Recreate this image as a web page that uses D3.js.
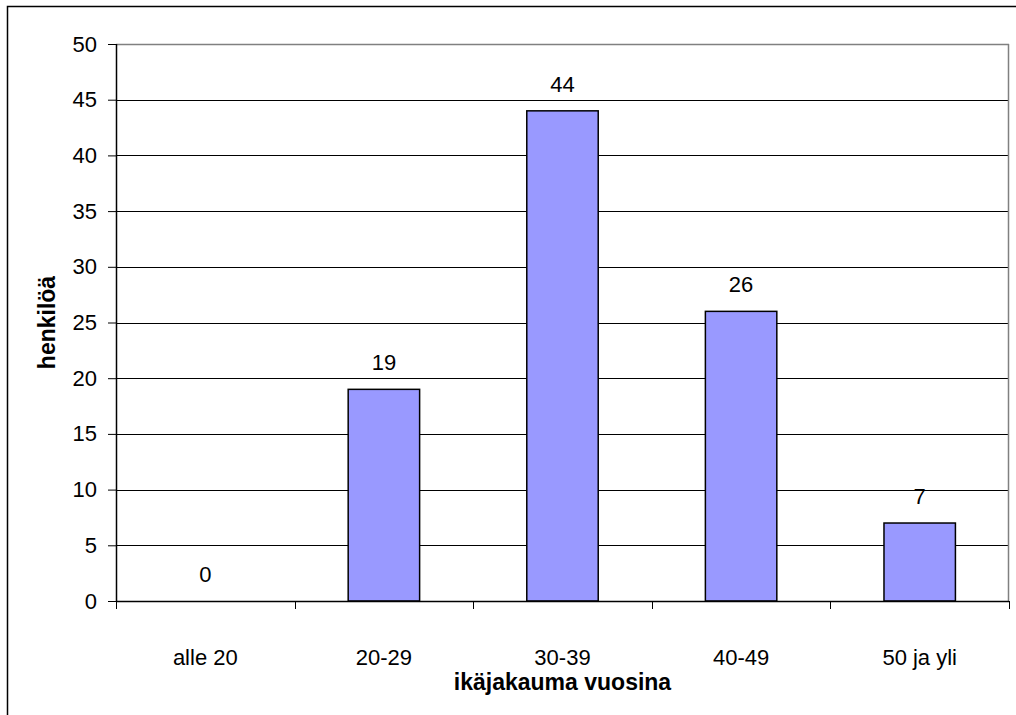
<!DOCTYPE html>
<html>
<head>
<meta charset="utf-8">
<script src="https://cdn.jsdelivr.net/npm/d3@7"></script>
<style>
  html, body { margin: 0; padding: 0; background: #fff; }
  svg { display: block; }
  text { font-family: Arial, "Liberation Sans", sans-serif; fill: #000; }
</style>
</head>
<body>
<svg id="chart"></svg>
<script>
const categories = ['alle 20', '20-29', '30-39', '40-49', '50 ja yli']
const values = [0, 19, 44, 26, 7]
const yTicks = [0, 5, 10, 15, 20, 25, 30, 35, 40, 45, 50]
const xTitle = 'ikäjakauma vuosina'
const yTitle = 'henkilöä'

const w = 1016
const h = 715
const padLeft = 116
const padRight = 1009
const padTop = 44
const padBottom = 601
const fontSize = '22px'
const titleSize = '23px'

const data = categories.map((c, i) => ({ cat: c, val: values[i] }))

const svg = d3.select('#chart').attr('width', w).attr('height', h)

// outer frame
svg.append('rect')
  .attr('x', 7.5).attr('y', 6.5)
  .attr('width', w + 10).attr('height', h + 10)
  .attr('fill', '#fff').attr('stroke', '#000').attr('stroke-width', 1.5)

const x = d3.scaleBand()
  .domain(categories)
  .range([padLeft, padRight])
  .paddingInner(0.6)
  .paddingOuter(0.3)

const y = d3.scaleLinear().domain([0, 50]).range([padBottom, padTop])

// gridlines
svg.append('g')
  .selectAll('line')
  .data(yTicks.filter((d) => d > 0))
  .enter()
  .append('line')
  .attr('x1', padLeft).attr('x2', padRight)
  .attr('y1', (d) => Math.round(y(d)) + 0.5)
  .attr('y2', (d) => Math.round(y(d)) + 0.5)
  .attr('stroke', '#000').attr('stroke-width', 1)

// top & right plot border (gray)
svg.append('line')
  .attr('x1', padLeft).attr('x2', padRight)
  .attr('y1', padTop + 0.5).attr('y2', padTop + 0.5)
  .attr('stroke', '#808080').attr('stroke-width', 1.5)
svg.append('line')
  .attr('x1', padRight - 0.5).attr('x2', padRight - 0.5)
  .attr('y1', padTop).attr('y2', padBottom)
  .attr('stroke', '#808080').attr('stroke-width', 1.5)

// bars
svg.append('g')
  .selectAll('rect')
  .data(data.filter((d) => d.val > 0))
  .enter()
  .append('rect')
  .attr('x', (d) => x(d.cat))
  .attr('y', (d) => y(d.val))
  .attr('width', x.bandwidth())
  .attr('height', (d) => y(0) - y(d.val))
  .attr('fill', '#9999ff')
  .attr('stroke', '#000')
  .attr('stroke-width', 1.5)

// value labels
svg.append('g')
  .selectAll('text')
  .data(data)
  .enter()
  .append('text')
  .attr('x', (d) => x(d.cat) + x.bandwidth() / 2)
  .attr('y', (d) => y(d.val) - 19)
  .attr('text-anchor', 'middle')
  .style('font-size', fontSize)
  .text((d) => d.val)

// y axis
const yAxis = d3.axisLeft(y).tickValues(yTicks).tickSize(8).tickPadding(11)
const gy = svg.append('g')
  .attr('transform', `translate(${padLeft},0)`)
  .call(yAxis)
gy.attr('font-family', null).attr('font-size', null)
gy.select('.domain').attr('stroke', '#000').attr('stroke-width', 1.5).attr('d', `M0.5,${padTop}V${padBottom}`)
gy.selectAll('.tick line').attr('stroke', '#000')
gy.selectAll('.tick text').style('font-size', fontSize)

// x axis
const boundaries = d3.range(categories.length + 1).map((i) => padLeft + i * (padRight - padLeft) / categories.length)
svg.append('line')
  .attr('x1', padLeft).attr('x2', padRight)
  .attr('y1', padBottom + 0.5).attr('y2', padBottom + 0.5)
  .attr('stroke', '#000').attr('stroke-width', 1.5)
const gx = svg.append('g')
gx.selectAll('line')
  .data(boundaries)
  .enter()
  .append('line')
  .attr('x1', (d) => Math.round(d) + 0.5).attr('x2', (d) => Math.round(d) + 0.5)
  .attr('y1', padBottom).attr('y2', padBottom + 8)
  .attr('stroke', '#000')
gx.selectAll('text')
  .data(categories)
  .enter()
  .append('text')
  .attr('x', (d) => x(d) + x.bandwidth() / 2)
  .attr('y', 665)
  .attr('text-anchor', 'middle')
  .style('font-size', fontSize)
  .text((d) => d)

// titles
svg.append('text')
  .attr('x', (padLeft + padRight) / 2)
  .attr('y', 690)
  .attr('text-anchor', 'middle')
  .style('font-size', titleSize)
  .style('font-weight', 'bold')
  .text(xTitle)

svg.append('text')
  .attr('transform', `translate(55, ${(padTop + padBottom) / 2}) rotate(-90)`)
  .attr('text-anchor', 'middle')
  .style('font-size', titleSize)
  .style('font-weight', 'bold')
  .text(yTitle)
</script>
</body>
</html>
